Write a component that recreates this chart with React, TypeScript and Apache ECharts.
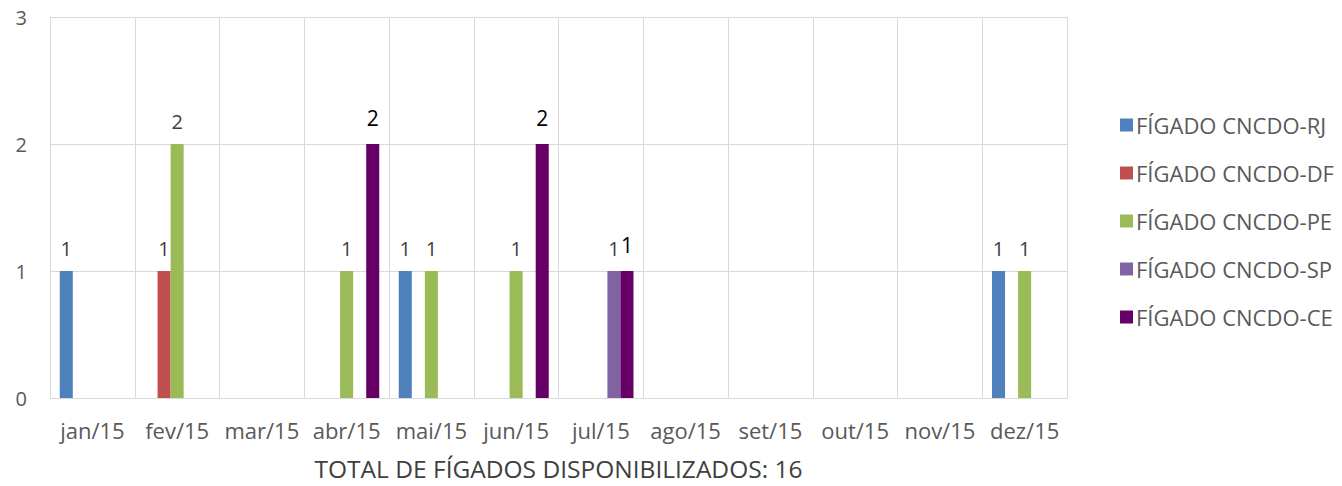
import React, { useEffect, useRef } from "react";
import * as echarts from "echarts";

const categories = ["jan/15", "fev/15", "mar/15", "abr/15", "mai/15", "jun/15", "jul/15", "ago/15", "set/15", "out/15", "nov/15", "dez/15"];
const seriesNames = ["FÍGADO CNCDO-RJ", "FÍGADO CNCDO-DF", "FÍGADO CNCDO-PE", "FÍGADO CNCDO-SP", "FÍGADO CNCDO-CE"];
const rjValues = [1, 0, 0, 0, 1, 0, 0, 0, 0, 0, 0, 1];
const dfValues = [0, 1, 0, 0, 0, 0, 0, 0, 0, 0, 0, 0];
const peValues = [0, 2, 0, 1, 1, 1, 0, 0, 0, 0, 0, 1];
const spValues = [0, 0, 0, 0, 0, 0, 1, 0, 0, 0, 0, 0];
const ceValues = [0, 0, 0, 2, 0, 2, 1, 0, 0, 0, 0, 0];
const yTicks = [0, 1, 2, 3];
const axisTitle = "TOTAL DE FÍGADOS DISPONIBILIZADOS: 16";

const colors = ["#4F81BD", "#C0504D", "#9BBB59", "#8064A2", "#660066"];
const FONT = "'Open Sans', 'Noto Sans', sans-serif";

export default function App() {
  const ref = useRef<HTMLDivElement>(null);
  useEffect(() => {
    if (!ref.current) return;
    const chart = echarts.init(ref.current, null, { renderer: "svg" });
    const all = [rjValues, dfValues, peValues, spValues, ceValues];
    chart.setOption({
      animation: false,
      textStyle: { fontFamily: FONT },
      grid: { left: 50, right: 275, top: 17, bottom: 84, containLabel: false },
      legend: {
        orient: "vertical",
        left: 1115,
        top: 109,
        itemWidth: 13,
        itemHeight: 13,
        itemGap: 26,
        icon: "rect",
        textStyle: { color: "#595959", fontSize: 22, fontFamily: FONT, padding: [0, 0, 0, -2] },
        data: seriesNames,
      },
      xAxis: {
        type: "category",
        data: categories,
        boundaryGap: true,
        axisLine: { show: true, lineStyle: { color: "#D9D9D9", width: 1 } },
        axisTick: { show: false },
        splitLine: { show: true, lineStyle: { color: "#D9D9D9", width: 1 } },
        axisLabel: { color: "#595959", fontSize: 22, margin: 21, interval: 0 },
        name: axisTitle,
        nameLocation: "middle",
        nameGap: 58,
        nameTextStyle: { color: "#404040", fontSize: 24.5, fontFamily: FONT },
      },
      yAxis: {
        type: "value",
        min: 0,
        max: yTicks[yTicks.length - 1],
        interval: 1,
        axisLine: { show: true, lineStyle: { color: "#D9D9D9" } },
        axisTick: { show: false },
        splitLine: { show: true, lineStyle: { color: "#D9D9D9", width: 1 } },
        axisLabel: { color: "#595959", fontSize: 20, margin: 23 },
      },
      series: seriesNames.map((name, i) => ({
        name,
        type: "bar",
        data: all[i],
        itemStyle: { color: colors[i] },
        barGap: "0%",
        barCategoryGap: "23%",
        label: {
          show: true,
          position: "top",
          distance: i === 4 ? 16 : 13,
          color: i === 4 ? "#000000" : "#404040",
          fontSize: i === 4 ? 21 : 20,
          fontFamily: FONT,
          formatter: (p: any) => (p.value ? String(p.value) : ""),
        },
      })),
    });
    return () => chart.dispose();
  }, []);
  return <div ref={ref} style={{ position: "fixed", left: 0, top: 0, width: 1342, height: 486, background: "#fff" }} />;
}
